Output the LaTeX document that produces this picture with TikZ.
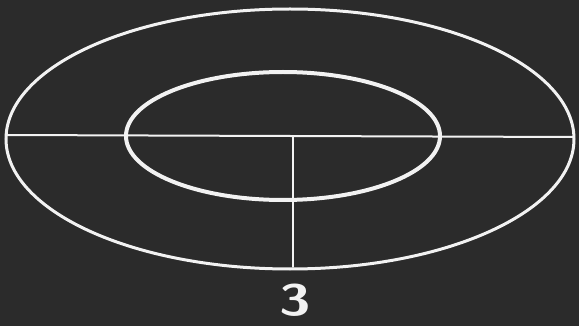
\documentclass[tikz,border=0pt]{standalone}
\begin{document}
\begin{tikzpicture}[x=1pt,y=-1pt,
  chalk/.style={draw=white!95!black, line cap=round},
  bg/.style={fill=black!83}]
\fill[bg] (0,0) rectangle (579,326);
\useasboundingbox (0,0) rectangle (579,326);
\coordinate (oc) at (290,139);
\coordinate (ic) at (283,136);
\coordinate (L) at (6,135);
\coordinate (R) at (574,137);
\coordinate (vt) at (293,137);
\coordinate (vb) at (293,267);
\draw[chalk, line width=3pt] (oc) ellipse [x radius=284, y radius=130];
\draw[chalk, line width=4pt] (ic) ellipse [x radius=157, y radius=64];
\draw[chalk, line width=2pt] (L) -- (R);
\draw[chalk, line width=1.4pt] (vt) -- (vb);
\node[text=white!95!black, font=\sffamily\bfseries\fontsize{44}{44}\selectfont, xscale=1.3] (lbl) at (295,300) {3};
\end{tikzpicture}
\end{document}
